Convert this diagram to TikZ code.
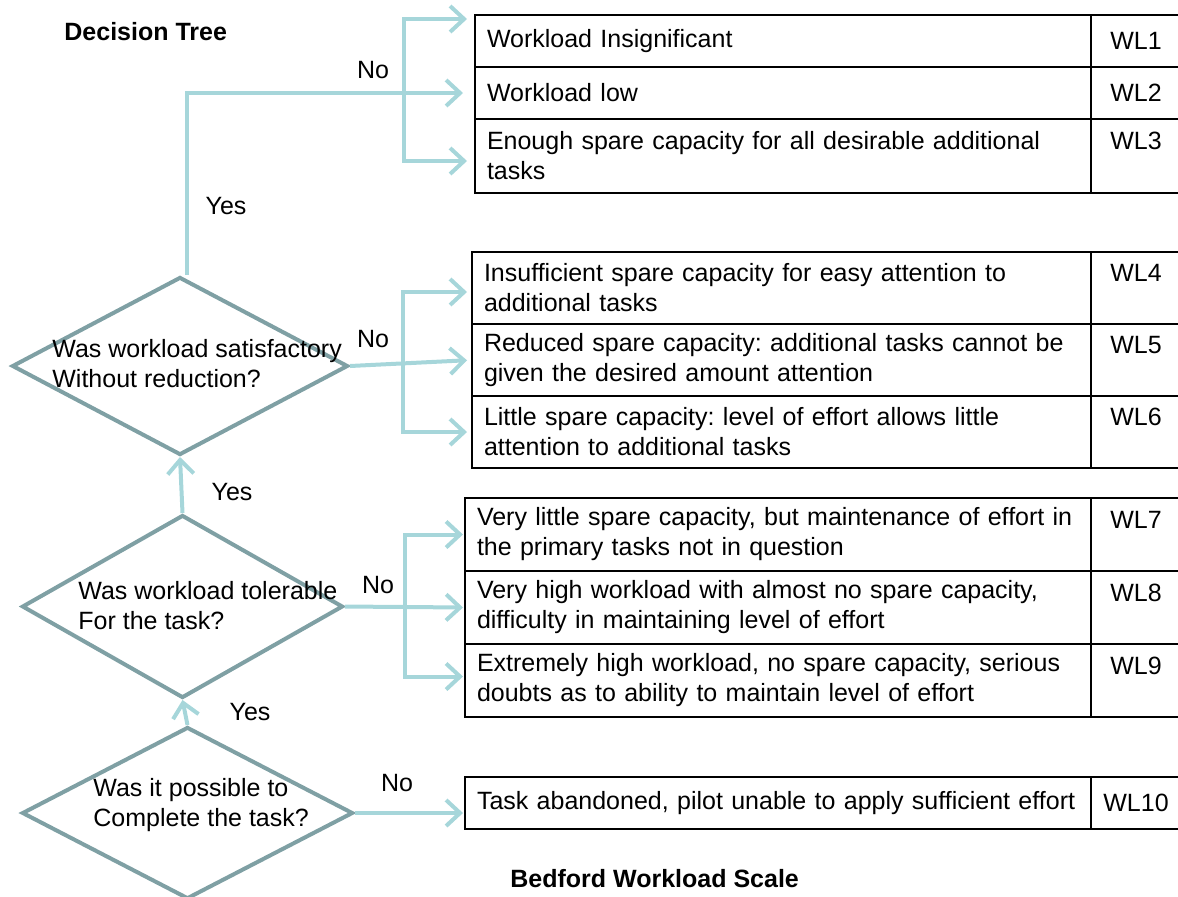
\documentclass[tikz,border=0pt]{standalone}
\usepackage{fontspec}
\setmainfont{Liberation Sans}
\usepackage{xcolor}
\usepackage{tikz}
\usetikzlibrary{shapes,arrows.meta,positioning,calc}
\definecolor{arrowc}{RGB}{166,214,218}
\definecolor{diamc}{RGB}{127,160,164}
\newcommand{\basefont}{\fontsize{12.5}{15}\selectfont\frenchspacing}

\begin{document}
\begin{tikzpicture}[
    x=0.5pt, y=-0.5pt,
    every node/.style={font=\basefont},
    dia/.style={diamond, draw=diamc, line width=2pt, inner sep=0pt},
    q/.style={anchor=west, align=left, inner sep=0pt},
    cell/.style={rectangle, draw=black, line width=1pt, outer sep=0pt, align=left, inner xsep=6pt, inner ysep=3pt, anchor=north west},
    code/.style={rectangle, draw=black, line width=1pt, outer sep=0pt, align=center, inner sep=0pt, minimum width=45pt},
    lbl/.style={inner sep=0pt},
    arr/.style={-{Straight Barb[length=7pt, width=13pt]}, line width=2pt, draw=arrowc},
    fork/.style={arr, {Straight Barb[length=7pt, width=13pt]}-{Straight Barb[length=7pt, width=13pt]}}
]
    \useasboundingbox (0,0) rectangle (1178,896);

    \node [lbl, font=\basefont\bfseries, anchor=west] (tree) at (64,32) {Decision Tree};
    \node [lbl, font=\basefont\bfseries, anchor=west] (scale) at (510,879) {Bedford Workload Scale};

    \node [dia, minimum width=168pt, minimum height=89pt] (d1) at (180,366) {};
    \node [dia, minimum width=160.5pt, minimum height=91.5pt] (d2) at (182.5,606.5) {};
    \node [dia, minimum width=165.5pt, minimum height=86pt] (d3) at (187.5,813) {};
    \node [q] (q1) at (52,364) {Was workload satisfactory\\Without reduction?};
    \node [q] (q2) at (78,606) {Was workload tolerable\\For the task?};
    \node [q] (q3) at (93,805) {Was it possible to\\Complete the task?};

    % WL1-WL3
    \node [cell, text width=296pt, minimum height=26pt] (wl1) at (475,15) {Workload Insignificant};
    \node [cell, text width=296pt, minimum height=26pt] (wl2) at (wl1.south west) {Workload low};
    \node [cell, text width=296pt, minimum height=37pt] (wl3) at (wl2.south west) {Enough spare capacity for all desirable additional\\tasks};
    \node [code, minimum height=26pt, right=0pt of wl1] (c1) {WL1};
    \node [code, minimum height=26pt, right=0pt of wl2] (c2) {WL2};
    \node [code, minimum height=37pt, right=0pt of wl3] (c3) {WL3\\\phantom{WL}};

    % WL4-WL6
    \node [cell, text width=297.5pt, minimum height=36pt] (wl4) at (472,252) {Insufficient spare capacity for easy attention to\\additional tasks};
    \node [cell, text width=297.5pt, minimum height=36pt] (wl5) at (wl4.south west) {Reduced spare capacity: additional tasks cannot be\\given the desired amount attention};
    \node [cell, text width=297.5pt, minimum height=36pt] (wl6) at (wl5.south west) {Little spare capacity: level of effort allows little\\attention to additional tasks};
    \node [code, minimum height=36pt, right=0pt of wl4] (c4) {WL4\\\phantom{WL}};
    \node [code, minimum height=36pt, right=0pt of wl5] (c5) {WL5\\\phantom{WL}};
    \node [code, minimum height=36pt, right=0pt of wl6] (c6) {WL6\\\phantom{WL}};

    % WL7-WL9
    \node [cell, text width=301pt, minimum height=36.5pt] (wl7) at (465,498) {Very little spare capacity, but maintenance of effort in\\the primary tasks not in question};
    \node [cell, text width=301pt, minimum height=36.5pt] (wl8) at (wl7.south west) {Very high workload with almost no spare capacity,\\difficulty in maintaining level of effort};
    \node [cell, text width=301pt, minimum height=36.5pt] (wl9) at (wl8.south west) {Extremely high workload, no spare capacity, serious\\doubts as to ability to maintain level of effort};
    \node [code, minimum height=36.5pt, right=0pt of wl7] (c7) {WL7\\\phantom{WL}};
    \node [code, minimum height=36.5pt, right=0pt of wl8] (c8) {WL8\\\phantom{WL}};
    \node [code, minimum height=36.5pt, right=0pt of wl9] (c9) {WL9\\\phantom{WL}};

    % WL10
    \node [cell, text width=301pt, minimum height=26pt] (wl10) at (465,777) {Task abandoned, pilot unable to apply sufficient effort};
    \node [code, minimum height=26pt, right=0pt of wl10] (c10) {WL10};

    \coordinate (k1) at (404,90);
    \coordinate (k2) at (403,360);
    \coordinate (k3) at (405,607);

    \draw [arr] (d3.north) -- (d2.south);
    \draw [arr] (d2.north) -- (d1.south);
    \draw [arr, shorten >=6pt] ([xshift=3.5pt]d1.north) |- (wl2.west);
    \draw [fork, shorten <=4pt, shorten >=4pt] ([yshift=11pt]wl1.west) -| (k1) |- ([yshift=-2.5pt]wl3.west);
    \draw [arr, shorten >=2.5pt] (d1.east) -- (wl5.west);
    \draw [fork, shorten <=2.5pt, shorten >=2.5pt] ([yshift=-2pt]wl4.west) -| (k2) |- (wl6.west);
    \draw [arr, shorten >=1pt] (d2.east) -- (wl8.west);
    \draw [fork, shorten <=1pt, shorten >=1pt] (wl7.west) -| (k3) |- ([yshift=2pt]wl9.west);
    \draw [arr, shorten >=1pt] (d3.east) -- (d3.east -| wl10.west);

    \node [lbl] (no1) at (373,70) {No};
    \node [lbl] (yes1) at (226,206) {Yes};
    \node [lbl] (no2) at (373,339) {No};
    \node [lbl] (yes2) at (232,492) {Yes};
    \node [lbl] (no3) at (378,585) {No};
    \node [lbl] (yes3) at (250,712) {Yes};
    \node [lbl] (no4) at (397,783) {No};
\end{tikzpicture}
\end{document}
